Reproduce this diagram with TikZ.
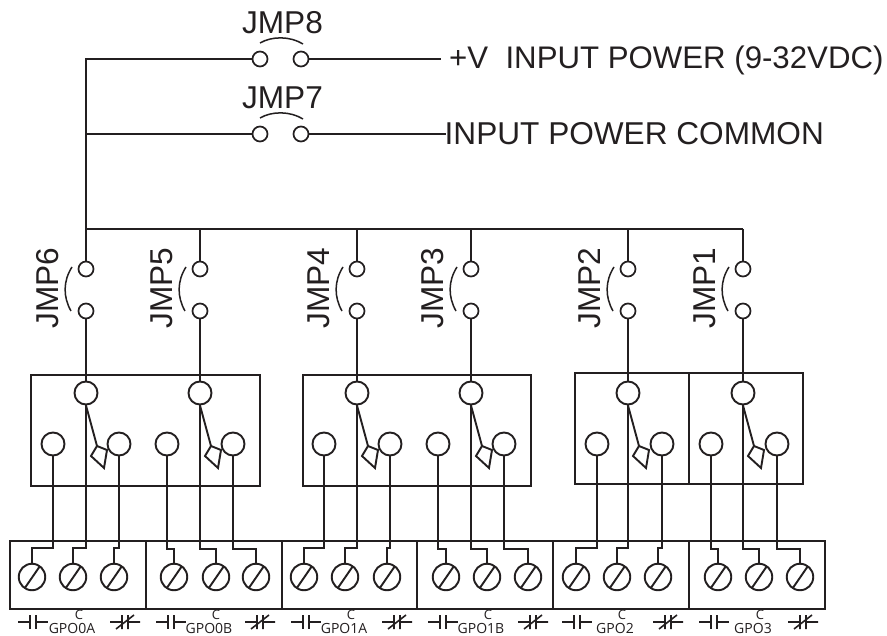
\documentclass[tikz,border=0pt]{standalone}
\usepackage{fontspec}
\setmainfont{Liberation Sans}
\newfontfamily\smallfont{Open Sans}
\definecolor{ink}{HTML}{231F20}
\tikzset{
  wire/.style={draw=ink,line width=1.9pt},
  box/.style={draw=ink,line width=1.9pt},
  arcline/.style={draw=ink,line width=1.5pt},
  symline/.style={draw=ink,line width=1.6pt},
  jcirc/.style={circle,draw=ink,line width=1.7pt,minimum size=15pt,inner sep=0pt,fill=white},
  rcirc/.style={circle,draw=ink,line width=1.9pt,minimum size=23pt,inner sep=0pt,fill=white},
  scirc/.style={circle,draw=ink,line width=1.9pt,minimum size=26.5pt,inner sep=0pt},
  biglabel/.style={inner sep=0pt,text=ink,font=\fontsize{31.6}{32}\selectfont},
  gpo/.style={inner sep=0pt,text=ink,font=\smallfont\fontsize{14}{14}\selectfont},
  cmark/.style={inner sep=0pt,text=ink,font=\smallfont\fontsize{13}{13}\selectfont},
}
\newcommand{\relaygroup}[4]{%
  \node[rcirc] (#1t) at (#2,393) {};
  \node[rcirc] (#1l) at (#3,444) {};
  \coordinate (#1a) at (#2+11,446);
  \draw[wire] (#1t.south) -- (#1a);
  \draw[wire,fill=white] (#2+11,446) -- (#2+21,450) -- (#2+18,468) -- (#2+5,456) -- cycle;
  \node[rcirc] (#1r) at (#4,444) {};
}
\newcommand{\screw}[2]{%
  \node[scirc] (#1) at (#2,577) {};
  \draw[wire] (#2-7.5,588.5) -- (#2+8,566);
}
\newcommand{\lead}[3]{%
  \draw[wire] (#1.south) -- (#1.south |- 0,#3) -| (#2.north);
}
\newcommand{\nosym}[1]{%
  \draw[symline] (#1,622) -- (#1+12,622) (#1+12,615) -- (#1+12,629) (#1+18,615) -- (#1+18,629) (#1+18,622) -- (#1+30,622);
}
\newcommand{\ncsym}[1]{%
  \draw[symline] (#1,622) -- (#1+12,622) (#1+12,615) -- (#1+12,629) (#1+18,615) -- (#1+18,629) (#1+18,622) -- (#1+30,622) (#1+6,629) -- (#1+24,615);
}
\begin{document}
\begin{tikzpicture}[x=1pt,y=-1pt]
\useasboundingbox (0,0) rectangle (887,636);
\fill[white] (0,0) rectangle (887,636);

\node[jcirc] (j8a) at (260,59) {};
\node[jcirc] (j8b) at (301,59) {};
\node[jcirc] (j7a) at (260,134) {};
\node[jcirc] (j7b) at (301,134) {};
\node[biglabel] (l8) at (282.5,23) {JMP8};
\node[biglabel] (l7) at (282.5,98) {JMP7};
\draw[arcline] (260,43) .. controls (272,36) and (290,36) .. (303,44);
\draw[arcline] (260,118) .. controls (272,111) and (290,111) .. (303,119);
\node[biglabel,anchor=west,font=\fontsize{31.2}{32}\selectfont] (pw) at (449,60) {+V\ \ INPUT POWER (9-32VDC)};
\node[biglabel,anchor=west] (cm) at (444.5,134) {INPUT POWER COMMON};
\coordinate (pwend) at (441,59);
\coordinate (cmend) at (446,134);
\draw[wire] (j8b) -- (pwend);
\draw[wire] (j7b) -- (cmend);
\coordinate (tl) at (86,59);
\coordinate (ml) at (86,134);
\coordinate (bl) at (86,229);
\coordinate (br) at (743,229);
\draw[wire] (j8a) -- (tl) -- (bl);
\draw[wire] (j7a) -- (ml);
\draw[wire] (bl) -- (br);

\foreach \n/\x/\lab in {6/86/JMP6,5/200/JMP5,4/357/JMP4,3/471/JMP3,2/628/JMP2,1/743/JMP1}{
  \node[jcirc] (u\n) at (\x,269) {};
  \node[jcirc] (d\n) at (\x,311) {};
  \draw[wire] (\x,229) -- (u\n);
  \draw[arcline] (\x-14,267) .. controls (\x-23,281) and (\x-23,297) .. (\x-15,311);
  \node[biglabel,rotate=90] (ln\n) at (\x-38.5,288) {\lab};
}

\draw[box] (31,375) rectangle (260,486);
\draw[box] (303,375) rectangle (531,486);
\draw[box] (575,373) rectangle (689,484);
\draw[box] (689,373) rectangle (803,484);

\relaygroup{a}{86}{53}{119}
\relaygroup{b}{200}{167}{233}
\relaygroup{c}{357}{324}{390}
\relaygroup{d}{471}{438}{504}
\relaygroup{e}{628}{597}{662}
\relaygroup{f}{743}{711}{777}

\foreach \n/\g in {6/a,5/b,4/c,3/d,2/e,1/f}{
  \draw[wire] (d\n) -- (\g t);
}

\draw[box] (10,541) rectangle (825,609);
\foreach \x in {146,282,417,553,689}{
  \draw[wire] (\x,541) -- (\x,609);
}

\screw{s1}{32}\screw{s2}{73}\screw{s3}{114}
\screw{s4}{174}\screw{s5}{216}\screw{s6}{256}
\screw{s7}{304}\screw{s8}{345}\screw{s9}{387}
\screw{s10}{446}\screw{s11}{487}\screw{s12}{528}
\screw{s13}{576}\screw{s14}{617}\screw{s15}{658}
\screw{s16}{718}\screw{s17}{759}\screw{s18}{800}

\lead{al}{s1}{548}\lead{at}{s2}{548}\lead{ar}{s3}{548}
\lead{bl}{s4}{549}\lead{bt}{s5}{549}\lead{br}{s6}{549}
\lead{cl}{s7}{548}\lead{ct}{s8}{548}\lead{cr}{s9}{548}
\lead{dl}{s10}{549}\lead{dt}{s11}{549}\lead{dr}{s12}{549}
\lead{el}{s13}{548}\lead{et}{s14}{548}\lead{er}{s15}{548}
\lead{fl}{s16}{549}\lead{ft}{s17}{549}\lead{fr}{s18}{549}

\foreach \a/\b/\c/\lab/\lx/\cx in {
  18/110/G0a/GPO0A/72/79,
  156/245/G0b/GPO0B/209/216,
  291/382/G1a/GPO1A/344/351,
  428/518/G1b/GPO1B/481/488,
  562/653/G2/GPO2/615/622,
  699/788/G3/GPO3/753/760}{
  \nosym{\a}
  \ncsym{\b}
  \node[gpo] (\c t) at (\lx,628.5) {\lab};
  \node[cmark] (\c c) at (\cx,614.5) {C};
}
\end{tikzpicture}
\end{document}
